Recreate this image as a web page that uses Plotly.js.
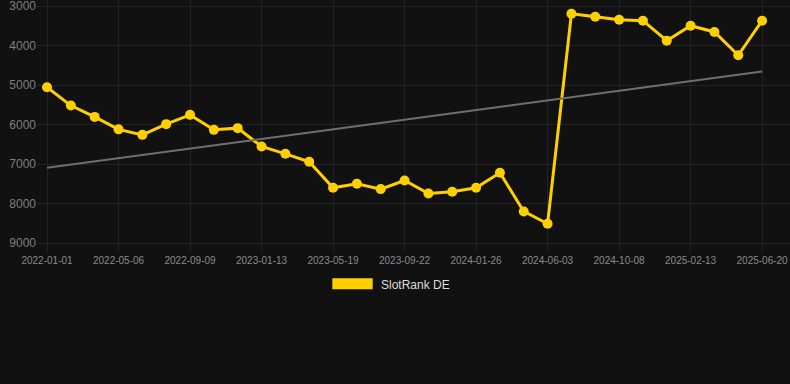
<!DOCTYPE html>
<html>
<head>
<meta charset="utf-8">
<script src="https://cdn.plot.ly/plotly-3.0.1.min.js"></script>
<style>
  html, body { margin: 0; padding: 0; background: #111111; }
  #chart { width: 790px; height: 384px; }
</style>
</head>
<body>
<div id="chart"></div>
<script>
// Dates (x categories)
const dates = [
  "2022-01-01", "2022-02-12", "2022-03-25", "2022-05-06", "2022-06-17", "2022-07-29",
  "2022-09-09", "2022-10-21", "2022-12-02", "2023-01-13", "2023-02-24", "2023-04-07",
  "2023-05-19", "2023-06-30", "2023-08-11", "2023-09-22", "2023-11-03", "2023-12-15",
  "2024-01-26", "2024-03-08", "2024-04-20", "2024-06-03", "2024-07-15", "2024-08-26",
  "2024-10-08", "2024-11-19", "2025-01-01", "2025-02-13", "2025-03-27", "2025-05-08",
  "2025-06-20"
];

// SlotRank DE rank values
const rankDE = [
  5056, 5521, 5807, 6123, 6262, 5991,
  5756, 6135, 6092, 6557, 6742, 6944,
  7602, 7501, 7635, 7417, 7746, 7703,
  7602, 7223, 8201, 8512, 3195, 3271,
  3346, 3372, 3877, 3498, 3657, 4247,
  3372
];

// Trend line end values
const trendX = [dates[0], dates[dates.length - 1]];
const trendValues = [7096, 4661];

// Tick labels
const tickDates = dates.filter((d, i) => i % 3 === 0);
const yTicks = [3000, 4000, 5000, 6000, 7000, 8000, 9000];

const seriesName = "SlotRank DE";

const traces = [
  {
    x: dates,
    y: rankDE,
    type: "scatter",
    mode: "lines+markers",
    name: seriesName,
    line: { color: "#FFD000", width: 3 },
    marker: { color: "#FFD000", size: 10 },
    showlegend: false
  },
  {
    x: trendX,
    y: trendValues,
    type: "scatter",
    mode: "lines",
    line: { color: "#6f6f6f", width: 2 },
    showlegend: false,
    hoverinfo: "skip"
  }
];

const layout = {
  width: 790,
  height: 384,
  paper_bgcolor: "#111111",
  plot_bgcolor: "#111111",
  margin: { l: 37, r: 0, t: 0, b: 131 },
  font: { family: "Liberation Sans, Arial, sans-serif", color: "#8a8a8a" },
  xaxis: {
    type: "category",
    categoryorder: "array",
    categoryarray: dates,
    range: [-0.42, 31.17],
    tickmode: "array",
    tickvals: tickDates,
    ticktext: tickDates,
    tickfont: { size: 10, color: "#8a8a8a" },
    showgrid: true,
    gridcolor: "#222222",
    zeroline: false,
    showline: false,
    ticks: "",
    ticklabeloverflow: "allow"
  },
  yaxis: {
    range: [9253, 2848],
    tickmode: "array",
    tickvals: yTicks,
    ticktext: yTicks.map(String),
    tickfont: { size: 12, color: "#7f7f7f" },
    showgrid: true,
    gridcolor: "#222222",
    zeroline: false,
    showline: false,
    ticks: "",
    ticklabeloverflow: "allow"
  },
  showlegend: false,
  shapes: [
    {
      type: "rect",
      xref: "paper", yref: "paper",
      x0: 0.3922, x1: 0.4458,
      y0: -0.100, y1: -0.1435,
      fillcolor: "#FFD000",
      line: { width: 0 }
    }
  ],
  annotations: [
    {
      xref: "paper", yref: "paper",
      x: 0.4542, y: -0.1265,
      xanchor: "left", yanchor: "middle",
      text: seriesName,
      showarrow: false,
      font: { size: 12, color: "#dddddd", family: "Liberation Sans, Arial, sans-serif" }
    }
  ]
};

Plotly.newPlot("chart", traces, layout, { displayModeBar: false, staticPlot: true });
</script>
</body>
</html>
